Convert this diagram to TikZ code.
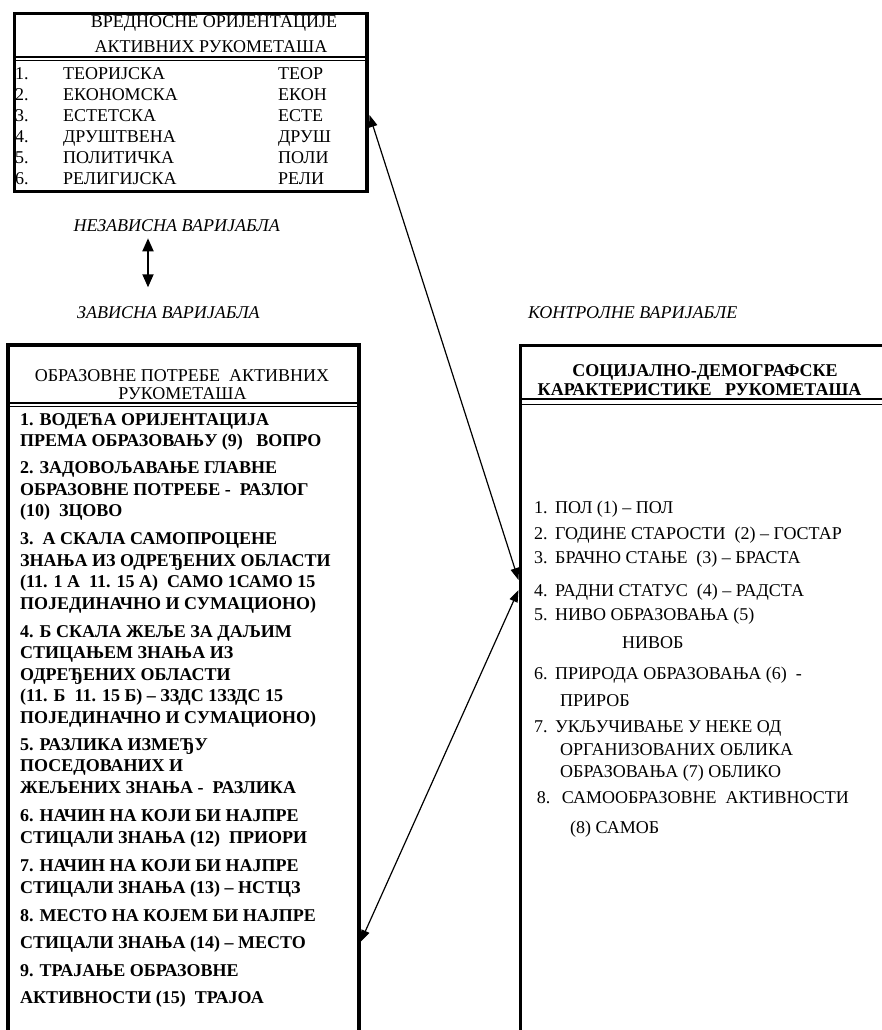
\documentclass[tikz,border=0pt]{standalone}
\usepackage{fontspec}
\setmainfont{Liberation Serif}
\usetikzlibrary{arrows.meta}

\newcommand{\vrow}[3]{\makebox[48pt][l]{#1}\makebox[215pt][l]{#2}#3}
\newcommand{\socnr}[1]{\makebox[21pt][l]{#1}}

\begin{document}
\begin{tikzpicture}[x=1pt,y=-1pt,
  boxline/.style={line width=3.6pt},
  septhick/.style={line width=2.3pt},
  septhin/.style={line width=1.2pt},
  rm/.style={anchor=base west, inner sep=0pt, font=\fontsize{18}{21.5}\selectfont},
  head/.style={anchor=base, inner sep=0pt, font=\fontsize{18}{21.5}\selectfont},
  bhead/.style={head, font=\fontsize{18}{21.5}\selectfont\bfseries},
  bitem/.style={anchor=base west, inner sep=0pt, align=left, font=\fontsize{18}{21.5}\selectfont\bfseries},
  var/.style={inner sep=0pt, font=\fontsize{18}{21.5}\selectfont\itshape},
  link/.style={{Triangle[length=12pt,width=8.5pt]}-{Triangle[length=12pt,width=8.5pt]}, line width=1.2pt}]

\useasboundingbox (0,0) rectangle (882,1030);

\draw[boxline] (14.3,13.7) rectangle (367,191.3);
\draw[septhick] (14.3,57.3) -- (367,57.3);
\draw[septhin] (14.3,60.8) -- (367,60.8);

\node (vredH1) [head] at (214,27.5) {ВРЕДНОСНЕ ОРИЈЕНТАЦИЈЕ};
\node (vredH2) [head] at (211,53) {АКТИВНИХ РУКОМЕТАША};
\node (teor) [rm] at (15,80) {\vrow{1.}{ТЕОРИЈСКА}{ТЕОР}};
\node (ekon) [rm] at (15,100.8) {\vrow{2.}{ЕКОНОМСКА}{ЕКОН}};
\node (este) [rm] at (15,121.6) {\vrow{3.}{ЕСТЕТСКА}{ЕСТЕ}};
\node (drus) [rm] at (15,142.4) {\vrow{4.}{ДРУШТВЕНА}{ДРУШ}};
\node (poli) [rm] at (15,163.2) {\vrow{5.}{ПОЛИТИЧКА}{ПОЛИ}};
\node (reli) [rm] at (15,184) {\vrow{6.}{РЕЛИГИЈСКА}{РЕЛИ}};

\node (nezav) [var, anchor=base east] at (280,231.7) {НЕЗАВИСНА ВАРИЈАБЛА};
\coordinate (indTop) at (148,238.3);
\coordinate (indBot) at (148,287.3);
\draw [{Triangle[length=13pt,width=11pt]}-{Triangle[length=13pt,width=11pt]}, line width=1.8pt] (indTop) -- (indBot);
\node (zavis) [var, anchor=base west] at (77,318.3) {ЗАВИСНА ВАРИЈАБЛА};
\node (kontr) [var, anchor=base west] at (528,318.3) {КОНТРОЛНЕ ВАРИЈАБЛЕ};

\draw[boxline] (8,1030) -- (8,344.7) -- (358.7,344.7) -- (358.7,1030);
\draw[septhick] (8,403) -- (358.7,403);
\draw[septhin] (8,406.6) -- (358.7,406.6);

\node (obrH1) [head] at (182,381.7) {ОБРАЗОВНЕ ПОТРЕБЕ\ \ АКТИВНИХ};
\node (obrH2) [head] at (182.5,399) {РУКОМЕТАША};
\node (vopro) [bitem] at (20,446.7) {1. ВОДЕЋА ОРИЈЕНТАЦИЈА\\ПРЕМА ОБРАЗОВАЊУ (9)\ \ \ ВОПРО};
\node (zcovo) [bitem] at (20,516.7) {2. ЗАДОВОЉАВАЊЕ ГЛАВНЕ\\ОБРАЗОВНЕ ПОТРЕБЕ -\ \ РАЗЛОГ\\(10)\ \ ЗЦОВО};
\node (samo) [bitem] at (20,609) {3.\ \ А СКАЛА САМОПРОЦЕНЕ\\ЗНАЊА ИЗ ОДРЕЂЕНИХ ОБЛАСТИ\\(11. 1 А\ \ 11. 15 А)\ \ САМО 1САМО 15\\ПОЈЕДИНАЧНО И СУМАЦИОНО)};
\node (zzds) [bitem] at (20,723) {4. Б СКАЛА ЖЕЉЕ ЗА ДАЉИМ\\СТИЦАЊЕМ ЗНАЊА ИЗ\\ОДРЕЂЕНИХ ОБЛАСТИ\\(11. Б\ \ 11. 15 Б) – ЗЗДС 1ЗЗДС 15\\ПОЈЕДИНАЧНО И СУМАЦИОНО)};
\node (razl) [bitem] at (20,793) {5. РАЗЛИКА ИЗМЕЂУ\\ПОСЕДОВАНИХ И\\ЖЕЉЕНИХ ЗНАЊА -\ \ РАЗЛИКА};
\node (priori) [bitem] at (20,843) {6. НАЧИН НА КОЈИ БИ НАЈПРЕ\\СТИЦАЛИ ЗНАЊА (12)\ \ ПРИОРИ};
\node (nstcz) [bitem] at (20,893) {7. НАЧИН НА КОЈИ БИ НАЈПРЕ\\СТИЦАЛИ ЗНАЊА (13) – НСТЦЗ};
\node (mesto) [bitem, font=\fontsize{18}{26.3}\selectfont\bfseries] at (20,948) {8. МЕСТО НА КОЈЕМ БИ НАЈПРЕ\\СТИЦАЛИ ЗНАЊА (14) – МЕСТО};
\node (trajoa) [bitem, font=\fontsize{18}{26.3}\selectfont\bfseries] at (20,1003) {9. ТРАЈАЊЕ ОБРАЗОВНЕ\\АКТИВНОСТИ (15)\ \ ТРАЈОА};

\draw[boxline] (882,345.3) -- (520.5,345.3) -- (520.5,1030);
\draw[septhick] (520.5,399) -- (882,399);
\draw[septhin] (520.5,404.2) -- (882,404.2);

\node (socH1) [bhead] at (705,376.7) {СОЦИЈАЛНО-ДЕМОГРАФСКЕ};
\node (socH2) [bhead] at (699.5,395) {КАРАКТЕРИСТИКЕ\ \ \ РУКОМЕТАША};
\node (pol) [rm] at (534,513) {\socnr{1.}ПОЛ (1) – ПОЛ};
\node (gostar) [rm] at (534,539) {\socnr{2.}ГОДИНЕ СТАРОСТИ\ \ (2) – ГОСТАР};
\node (brasta) [rm] at (534,563) {\socnr{3.}БРАЧНО СТАЊЕ\ \ (3) – БРАСТА};
\node (radsta) [rm] at (534,596) {\socnr{4.}РАДНИ СТАТУС\ \ (4) – РАДСТА};
\node (nivo) [rm] at (534,620) {\socnr{5.}НИВО ОБРАЗОВАЊА (5)};
\node (nivob) [rm] at (622,648) {НИВОБ};
\node (prir) [rm] at (534,679) {\socnr{6.}ПРИРОДА ОБРАЗОВАЊА (6)\ \ -};
\node (prirob) [rm] at (560,706) {ПРИРОБ};
\node (ukl) [rm] at (534,732) {\socnr{7.}УКЉУЧИВАЊЕ У НЕКЕ ОД};
\node (organ) [rm] at (560,755) {ОРГАНИЗОВАНИХ ОБЛИКА};
\node (obliko) [rm] at (560,777) {ОБРАЗОВАЊА (7) ОБЛИКО};
\node (samoobr) [rm] at (536.7,803) {\makebox[25pt][l]{8.}САМООБРАЗОВНЕ\ \ АКТИВНОСТИ};
\node (samob) [rm] at (570,833) {(8) САМОБ};

\coordinate (vredE) at (369.5,115);
\coordinate (socW1) at (518.5,580);
\coordinate (socW2) at (518.5,590);
\coordinate (obrE) at (360.5,942);

\draw [link] (vredE) -- (socW1);
\draw [link] (obrE) -- (socW2);

\end{tikzpicture}
\end{document}
